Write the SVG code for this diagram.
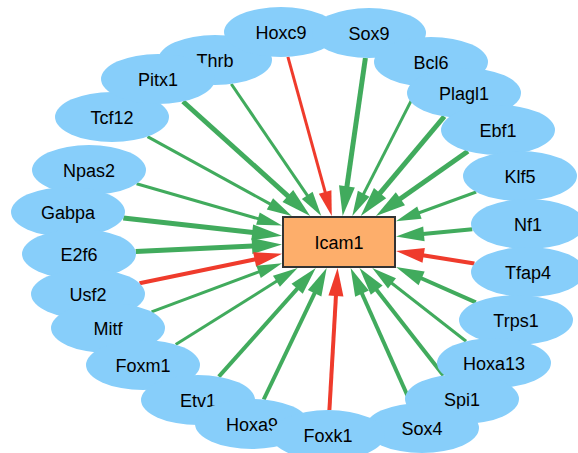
<svg xmlns="http://www.w3.org/2000/svg" width="578" height="453" viewBox="0 0 578 453">
<defs>
<style>
.n ellipse{fill:#87CEFA;stroke:none}
text{font-family:"Liberation Sans",Arial,Helvetica,sans-serif;font-size:18px;text-anchor:middle;fill:#000}
#edges line{fill:none}
.g{stroke:#41AB5D}
.r{stroke:#EF3B2C}
.w5{stroke-width:5}
.w4{stroke-width:4}
.w3{stroke-width:3}
.box{fill:#FDAE6B;stroke:#333;stroke-width:2}
</style>
<marker id="mg5" markerUnits="userSpaceOnUse" orient="auto" refX="0" refY="0" markerWidth="40" markerHeight="40" overflow="visible"><path d="M-1,-8 L29,0 L-1,8 Z" fill="#41AB5D"/></marker>
<marker id="mg4" markerUnits="userSpaceOnUse" orient="auto" refX="0" refY="0" markerWidth="40" markerHeight="40" overflow="visible"><path d="M-1,-7.5 L27,0 L-1,7.5 Z" fill="#41AB5D"/></marker>
<marker id="mg3" markerUnits="userSpaceOnUse" orient="auto" refX="0" refY="0" markerWidth="40" markerHeight="40" overflow="visible"><path d="M-1,-6.5 L24,0 L-1,6.5 Z" fill="#41AB5D"/></marker>
<marker id="mr4" markerUnits="userSpaceOnUse" orient="auto" refX="0" refY="0" markerWidth="40" markerHeight="40" overflow="visible"><path d="M-1,-7.5 L27,0 L-1,7.5 Z" fill="#EF3B2C"/></marker>
<marker id="mr3" markerUnits="userSpaceOnUse" orient="auto" refX="0" refY="0" markerWidth="40" markerHeight="40" overflow="visible"><path d="M-1,-6.5 L24,0 L-1,6.5 Z" fill="#EF3B2C"/></marker>
</defs>
<rect x="0" y="0" width="578" height="453" fill="#fff"/>
<g id="edges">
<line class="r w3" x1="287.9" y1="56.8" x2="325.4" y2="192.9" marker-end="url(#mr3)"/>
<line class="g w5" x1="365.4" y1="58" x2="346.8" y2="187.3" marker-end="url(#mg5)"/>
<line class="g w3" x1="231.3" y1="84" x2="307.8" y2="196.2" marker-end="url(#mg3)" stroke-width="2.6"/>
<line class="g w5" x1="183" y1="101.5" x2="288.6" y2="196.6" marker-end="url(#mg5)"/>
<line class="g w3" x1="147.5" y1="136.6" x2="270.8" y2="204.4" marker-end="url(#mg3)"/>
<line class="g w3" x1="136.6" y1="183.7" x2="258.9" y2="218.9" marker-end="url(#mg3)"/>
<line class="g w5" x1="123.3" y1="218.1" x2="253.2" y2="232.5" marker-end="url(#mg5)"/>
<line class="g w5" x1="135.7" y1="251.4" x2="253" y2="245.9" marker-end="url(#mg5)"/>
<line class="r w4" x1="139.5" y1="283.3" x2="255.6" y2="259.3" marker-end="url(#mr4)"/>
<line class="g w3" x1="151.5" y1="311.8" x2="259.5" y2="271.6" marker-end="url(#mg3)"/>
<line class="g w3" x1="175.7" y1="344.5" x2="277.3" y2="280.8" marker-end="url(#mg3)"/>
<line class="g w4" x1="218.8" y1="376.7" x2="297.8" y2="288.1" marker-end="url(#mg4)"/>
<line class="g w4" x1="263.7" y1="399.5" x2="315" y2="292.4" marker-end="url(#mg4)"/>
<line class="r w4" x1="329.4" y1="410" x2="336" y2="295" marker-end="url(#mr4)"/>
<line class="g w4" x1="411" y1="403.5" x2="361.6" y2="292.7" marker-end="url(#mg4)"/>
<line class="g w4" x1="443.5" y1="375.4" x2="376.1" y2="289.3" marker-end="url(#mg4)"/>
<line class="g w3" x1="466.1" y1="341.2" x2="391.2" y2="282.8" marker-end="url(#mg3)"/>
<line class="g w4" x1="475.8" y1="302.3" x2="420.7" y2="278" marker-end="url(#mg4)"/>
<line class="r w4" x1="474.4" y1="263.5" x2="422.7" y2="255.2" marker-end="url(#mr4)"/>
<line class="g w4" x1="472.3" y1="229.3" x2="422.9" y2="234" marker-end="url(#mg4)"/>
<line class="g w3" x1="476.2" y1="192" x2="418.5" y2="213" marker-end="url(#mg3)"/>
<line class="g w5" x1="467.9" y1="151.2" x2="399.6" y2="199.3" marker-end="url(#mg5)"/>
<line class="g w5" x1="444.3" y1="116.5" x2="379.4" y2="193.8" marker-end="url(#mg5)"/>
<line class="g w3" x1="418.5" y1="86.4" x2="363.2" y2="194.6" marker-end="url(#mg3)"/>
</g>
<g id="node-Npas2" class="n"><ellipse cx="89" cy="170" rx="57" ry="25"/><text x="89" y="176.5">Npas2</text></g>
<g id="node-Tcf12" class="n"><ellipse cx="112" cy="117" rx="57" ry="25"/><text x="112" y="123.5">Tcf12</text></g>
<g id="node-Thrb" class="n"><ellipse cx="215" cy="60" rx="57" ry="25"/><text x="215" y="66.5">Thrb</text></g>
<g id="node-Pitx1" class="n"><ellipse cx="158" cy="79" rx="57" ry="25"/><text x="158" y="85.5">Pitx1</text></g>
<g id="node-Hoxc9" class="n"><ellipse cx="281" cy="32" rx="57" ry="25"/><text x="281" y="38.5">Hoxc9</text></g>
<g id="node-Sox9" class="n"><ellipse cx="369" cy="33" rx="57" ry="25"/><text x="369" y="39.5">Sox9</text></g>
<g id="node-Bcl6" class="n"><ellipse cx="431" cy="62" rx="57" ry="25"/><text x="431" y="68.5">Bcl6</text></g>
<g id="node-Plagl1" class="n"><ellipse cx="464" cy="93" rx="57" ry="25"/><text x="464" y="99.5">Plagl1</text></g>
<g id="node-Ebf1" class="n"><ellipse cx="498" cy="130" rx="57" ry="25"/><text x="498" y="136.5">Ebf1</text></g>
<g id="node-Klf5" class="n"><ellipse cx="520" cy="176" rx="57" ry="25"/><text x="520" y="182.5">Klf5</text></g>
<g id="node-Nf1" class="n"><ellipse cx="528" cy="224" rx="57" ry="25"/><text x="528" y="230.5">Nf1</text></g>
<g id="node-Tfap4" class="n"><ellipse cx="528" cy="272" rx="57" ry="25"/><text x="528" y="278.5">Tfap4</text></g>
<g id="node-Trps1" class="n"><ellipse cx="516" cy="320" rx="57" ry="25"/><text x="516" y="326.5">Trps1</text></g>
<g id="node-Hoxa13" class="n"><ellipse cx="494" cy="363" rx="57" ry="25"/><text x="494" y="369.5">Hoxa13</text></g>
<g id="node-Spi1" class="n"><ellipse cx="462" cy="399" rx="57" ry="25"/><text x="462" y="405.5">Spi1</text></g>
<g id="node-Gabpa" class="n"><ellipse cx="68" cy="212" rx="57" ry="25"/><text x="68" y="218.5">Gabpa</text></g>
<g id="node-E2f6" class="n"><ellipse cx="79" cy="254" rx="57" ry="25"/><text x="79" y="260.5">E2f6</text></g>
<g id="node-Usf2" class="n"><ellipse cx="88" cy="294" rx="57" ry="25"/><text x="88" y="300.5">Usf2</text></g>
<g id="node-Mitf" class="n"><ellipse cx="108" cy="328" rx="57" ry="25"/><text x="108" y="334.5">Mitf</text></g>
<g id="node-Foxm1" class="n"><ellipse cx="143" cy="365" rx="57" ry="25"/><text x="143" y="371.5">Foxm1</text></g>
<g id="node-Etv1" class="n"><ellipse cx="198" cy="400" rx="57" ry="25"/><text x="198" y="406.5">Etv1</text></g>
<g id="node-Hoxa9" class="n"><ellipse cx="252" cy="424" rx="57" ry="25"/><text x="252" y="430.5">Hoxa9</text></g>
<g id="node-Sox4" class="n"><ellipse cx="422" cy="428" rx="57" ry="25"/><text x="422" y="434.5">Sox4</text></g>
<g id="node-Foxk1" class="n"><ellipse cx="328" cy="435" rx="57" ry="25"/><text x="328" y="441.5">Foxk1</text></g>
<g id="node-Icam1"><rect class="box" x="283" y="217" width="112" height="50"/><text x="339" y="248.5">Icam1</text></g>
</svg>
